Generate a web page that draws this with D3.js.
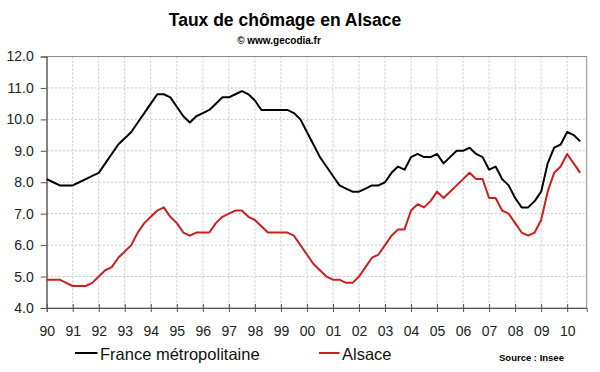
<!DOCTYPE html>
<html>
<head>
<meta charset="utf-8">
<script src="https://cdn.jsdelivr.net/npm/d3@7"></script>
<style>
  body { margin: 0; background: #fff; }
  svg { display: block; font-family: "Liberation Sans", Arial, sans-serif; }
</style>
</head>
<body>
<svg id="chart" width="600" height="372"></svg>
<script>
// taux de chômage trimestriel, 1990 T1 -> 2010 T3
const yearLabels = ["90","91","92","93","94","95","96","97","98","99",
                    "00","01","02","03","04","05","06","07","08","09","10"];

const france = [
  8.1, 8.0, 7.9, 7.9,   7.9, 8.0, 8.1, 8.2,   8.3, 8.6, 8.9, 9.2,
  9.4, 9.6, 9.9, 10.2,  10.5, 10.8, 10.8, 10.7, 10.4, 10.1, 9.9, 10.1,
  10.2, 10.3, 10.5, 10.7, 10.7, 10.8, 10.9, 10.8, 10.6, 10.3, 10.3, 10.3,
  10.3, 10.3, 10.2, 10.0, 9.6, 9.2, 8.8, 8.5,  8.2, 7.9, 7.8, 7.7,
  7.7, 7.8, 7.9, 7.9,   8.0, 8.3, 8.5, 8.4,   8.8, 8.9, 8.8, 8.8,
  8.9, 8.6, 8.8, 9.0,   9.0, 9.1, 8.9, 8.8,   8.4, 8.5, 8.1, 7.9,
  7.5, 7.2, 7.2, 7.4,   7.7, 8.6, 9.1, 9.2,   9.6, 9.5, 9.3
];

const alsace = [
  4.9, 4.9, 4.9, 4.8,   4.7, 4.7, 4.7, 4.8,   5.0, 5.2, 5.3, 5.6,
  5.8, 6.0, 6.4, 6.7,   6.9, 7.1, 7.2, 6.9,   6.7, 6.4, 6.3, 6.4,
  6.4, 6.4, 6.7, 6.9,   7.0, 7.1, 7.1, 6.9,   6.8, 6.6, 6.4, 6.4,
  6.4, 6.4, 6.3, 6.0,   5.7, 5.4, 5.2, 5.0,   4.9, 4.9, 4.8, 4.8,
  5.0, 5.3, 5.6, 5.7,   6.0, 6.3, 6.5, 6.5,   7.1, 7.3, 7.2, 7.4,
  7.7, 7.5, 7.7, 7.9,   8.1, 8.3, 8.1, 8.1,   7.5, 7.5, 7.1, 7.0,
  6.7, 6.4, 6.3, 6.4,   6.8, 7.7, 8.3, 8.5,   8.9, 8.6, 8.3
];

const yTicks = [4, 5, 6, 7, 8, 9, 10, 11, 12];

const seriesNames = ["France métropolitaine", "Alsace"];
const seriesColors = ["#000000", "#cc1f1f"];

const svg = d3.select("#chart");

const plotLeft = 46.7, plotRight = 586.7, plotTop = 56.5, plotBottom = 308;

const x = d3.scaleLinear().domain([0, 83]).range([plotLeft, plotRight]);
const y = d3.scaleLinear().domain([4, 12]).range([plotBottom, plotTop]);

// grille pointillée
const grid = svg.append("g");
grid.selectAll(".hg")
  .data(yTicks.filter(d => d > 4 && d < 12))
  .join("line")
  .attr("x1", plotLeft).attr("x2", plotRight)
  .attr("y1", d => y(d)).attr("y2", d => y(d))
  .attr("stroke", "#c4c4c4")
  .attr("stroke-dasharray", "2,2");

grid.selectAll(".vg")
  .data(yearLabels.slice(1))
  .join("line")
  .attr("x1", (d, i) => x((i + 1) * 4)).attr("x2", (d, i) => x((i + 1) * 4))
  .attr("y1", plotTop).attr("y2", plotBottom)
  .attr("stroke", "#c4c4c4")
  .attr("stroke-dasharray", "2,2");

// cadre
svg.append("rect")
  .attr("x", plotLeft).attr("y", plotTop)
  .attr("width", plotRight - plotLeft).attr("height", plotBottom - plotTop)
  .attr("fill", "none")
  .attr("stroke", "#8a8a8a")
  .attr("stroke-width", 1);

// axe Y
const yAxis = svg.append("g")
  .attr("transform", `translate(${plotLeft},0)`)
  .call(d3.axisLeft(y).tickValues(yTicks).tickFormat(d3.format(".1f")).tickSize(6).tickPadding(7));
yAxis.select(".domain").attr("stroke", "#555");
yAxis.selectAll(".tick line").attr("stroke", "#555");
yAxis.selectAll("text").attr("font-size", "14px").attr("fill", "#222");

// axe X
const xAxis = svg.append("g")
  .attr("transform", `translate(0,${plotBottom})`)
  .call(d3.axisBottom(x)
    .tickValues(d3.range(0, 84, 4))
    .tickFormat((d, i) => yearLabels[i])
    .tickSize(4)
    .tickPadding(14));
xAxis.select(".domain").attr("stroke", "#555");
xAxis.selectAll(".tick line").attr("stroke", "#555").attr("y1", -4);
xAxis.selectAll("text").attr("font-size", "14px").attr("fill", "#222");

// courbes
const line = d3.line()
  .x((d, i) => x(i))
  .y(d => y(d));

[france, alsace].forEach((s, k) => {
  svg.append("path")
    .datum(s)
    .attr("d", line)
    .attr("fill", "none")
    .attr("stroke", seriesColors[k])
    .attr("stroke-width", 2)
    .attr("stroke-linejoin", "round");
});

// titres
svg.append("text")
  .attr("x", 285).attr("y", 25.5)
  .attr("text-anchor", "middle")
  .attr("font-size", "17.5px").attr("font-weight", "bold")
  .text("Taux de chômage en Alsace");

svg.append("text")
  .attr("x", 279).attr("y", 44)
  .attr("text-anchor", "middle")
  .attr("font-size", "10px").attr("font-weight", "bold")
  .text("© www.gecodia.fr");

// légende
const legendX = [75, 319];
const legendW = [22.5, 20.5];
seriesNames.forEach((name, k) => {
  const g = svg.append("g");
  g.append("line")
    .attr("x1", legendX[k]).attr("x2", legendX[k] + legendW[k])
    .attr("y1", 353).attr("y2", 353)
    .attr("stroke", seriesColors[k]).attr("stroke-width", 2);
  g.append("text")
    .attr("x", legendX[k] + legendW[k] + 2.5).attr("y", 359.5)
    .attr("font-size", "16.5px").attr("fill", "#111")
    .text(name);
});

svg.append("text")
  .attr("x", 499).attr("y", 361)
  .attr("font-size", "9.5px").attr("font-weight", "bold")
  .text("Source : Insee");
</script>
</body>
</html>
